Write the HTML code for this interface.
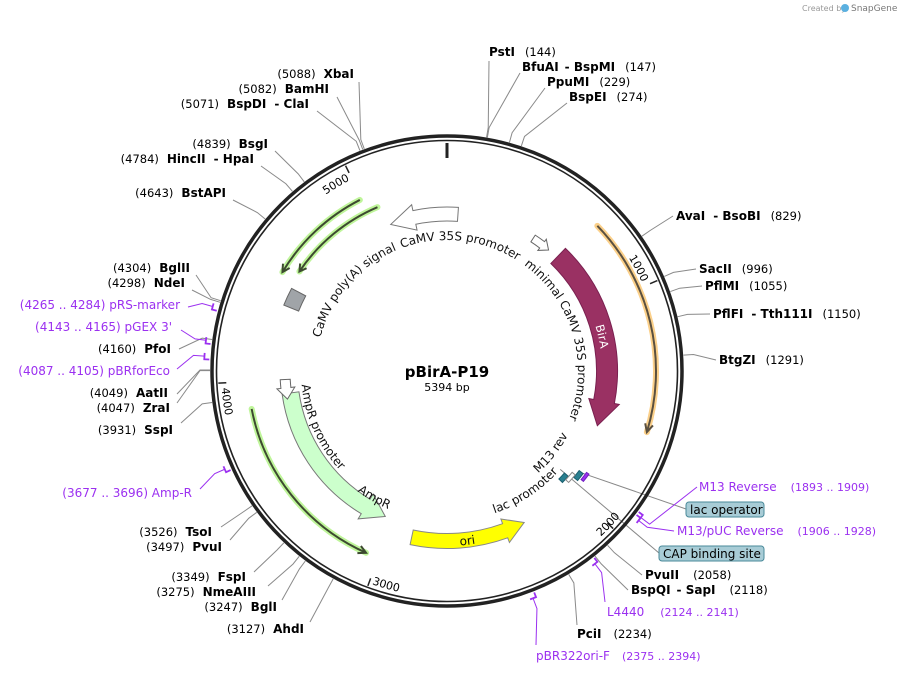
<!DOCTYPE html>
<html><head><meta charset="utf-8"><style>
html,body{margin:0;padding:0;background:#fff;}
svg{display:block;font-family:"DejaVu Sans","Liberation Sans",sans-serif;}
.b{font-weight:bold;fill:#000;font-size:12px;}
.n{fill:#000;font-size:11.5px;}
.p{fill:#9b30f0;font-size:12px;}
.f{font-size:12px;fill:#111;}
</style></head><body>
<svg id="s" width="898" height="674" viewBox="0 0 898 674" xmlns="http://www.w3.org/2000/svg">
<defs>
<path id="cw130" d="M447,502 A131,131 0 1 1 447,240 A131,131 0 1 1 447,502"/>
<path id="cw155" d="M447,526 A155,155 0 1 1 447,216 A155,155 0 1 1 447,526"/>
<path id="cw214" d="M447,585 A214,214 0 1 1 447,157 A214,214 0 1 1 447,585"/>
<path id="ccw146" d="M447,225 A146,146 0 1 0 447,517 A146,146 0 1 0 447,225"/>
<path id="ccw150" d="M447,221 A150,150 0 1 0 447,521 A150,150 0 1 0 447,221"/>
<path id="ccw137" d="M447,234 A137,137 0 1 0 447,508 A137,137 0 1 0 447,234"/>
<path id="ccw175" d="M447,196 A175,175 0 1 0 447,546 A175,175 0 1 0 447,196"/>
<path id="ccw226" d="M447,145 A226,226 0 1 0 447,597 A226,226 0 1 0 447,145"/>
</defs>
<text x="802" y="11" font-size="8" fill="#999">Created by</text>
<circle cx="845" cy="8" r="4" fill="#5ab0e0"/>
<text x="851" y="11" font-size="9" fill="#777">SnapGene</text>

<g id="leaders" stroke="#8a8a8a" stroke-width="1" fill="none"></g>
<g id="marks"></g>

<circle cx="447" cy="371" r="235" fill="none" stroke="#222" stroke-width="3.5"/>
<circle cx="447" cy="371" r="230.5" fill="none" stroke="#222" stroke-width="1.6"/>
<g id="ticks" stroke="#222" stroke-width="1.5"></g>
<line x1="447" y1="143" x2="447" y2="158" stroke="#222" stroke-width="3"/>

<g id="feat"></g>

<text font-size="11"><textPath href="#cw214" startOffset="42.5%" text-anchor="end">5000</textPath></text>
<text font-size="11"><textPath href="#cw214" startOffset="68.2%" text-anchor="end">1000</textPath></text>
<text font-size="11"><textPath href="#ccw226" startOffset="62.9%" text-anchor="middle">2000</textPath></text>
<text font-size="11"><textPath href="#ccw226" startOffset="44.6%" text-anchor="start">3000</textPath></text>
<text font-size="11"><textPath href="#ccw226" startOffset="26.2%" text-anchor="start">4000</textPath></text>

<text class="f"><textPath href="#cw130" startOffset="51.7%" text-anchor="middle">CaMV 35S promoter</textPath></text>
<text class="f"><textPath href="#cw130" startOffset="36.4%" text-anchor="middle">CaMV poly(A) signal</textPath></text>
<text class="f"><textPath href="#cw130" startOffset="70.5%" text-anchor="middle">minimal CaMV 35S promoter</textPath></text>
<text font-size="11.5" fill="#fff"><textPath href="#cw155" startOffset="71.5%" text-anchor="middle">BirA</textPath></text>
<text class="f"><textPath href="#ccw146" startOffset="31.7%" text-anchor="middle">AmpR promoter</textPath></text>
<text class="f"><textPath href="#ccw150" startOffset="41.7%" text-anchor="middle">AmpR</textPath></text>
<text class="f"><textPath href="#ccw150" startOffset="59.2%" text-anchor="middle">lac promoter</textPath></text>
<text class="f"><textPath href="#ccw137" startOffset="64.4%" text-anchor="middle">M13 rev</textPath></text>
<text class="f" font-size="12.5"><textPath href="#ccw175" startOffset="51.9%" text-anchor="middle">ori</textPath></text>

<text x="447" y="377" text-anchor="middle" font-weight="bold" font-size="15">pBirA-P19</text>
<text x="447" y="391" text-anchor="middle" font-size="11">5394 bp</text>

<text x="489" y="56"><tspan class="b">PstI</tspan><tspan class="n" dx="10">(144)</tspan></text>
<text x="522" y="71"><tspan class="b">BfuAI</tspan><tspan class="b" dx="6">- BspMI</tspan><tspan class="n" dx="10">(147)</tspan></text>
<text x="547" y="86"><tspan class="b">PpuMI</tspan><tspan class="n" dx="10">(229)</tspan></text>
<text x="569" y="101"><tspan class="b">BspEI</tspan><tspan class="n" dx="10">(274)</tspan></text>
<text x="676" y="220"><tspan class="b">AvaI</tspan><tspan class="b" dx="8">- BsoBI</tspan><tspan class="n" dx="10">(829)</tspan></text>
<text x="699" y="273"><tspan class="b">SacII</tspan><tspan class="n" dx="10">(996)</tspan></text>
<text x="705" y="290"><tspan class="b">PflMI</tspan><tspan class="n" dx="10">(1055)</tspan></text>
<text x="713" y="318"><tspan class="b">PflFI</tspan><tspan class="b" dx="8">- Tth111I</tspan><tspan class="n" dx="10">(1150)</tspan></text>
<text x="719" y="364"><tspan class="b">BtgZI</tspan><tspan class="n" dx="10">(1291)</tspan></text>
<text x="354" y="78" text-anchor="end"><tspan class="n">(5088)</tspan><tspan class="b" dx="8">XbaI</tspan></text>
<text x="329" y="93" text-anchor="end"><tspan class="n">(5082)</tspan><tspan class="b" dx="8">BamHI</tspan></text>
<text x="309" y="108" text-anchor="end"><tspan class="n">(5071)</tspan><tspan class="b" dx="8">BspDI</tspan><tspan class="b" dx="8">- ClaI</tspan></text>
<text x="268" y="148" text-anchor="end"><tspan class="n">(4839)</tspan><tspan class="b" dx="8">BsgI</tspan></text>
<text x="254" y="163" text-anchor="end"><tspan class="n">(4784)</tspan><tspan class="b" dx="8">HincII</tspan><tspan class="b" dx="8">- HpaI</tspan></text>
<text x="226" y="197" text-anchor="end"><tspan class="n">(4643)</tspan><tspan class="b" dx="8">BstAPI</tspan></text>
<text x="190" y="272" text-anchor="end"><tspan class="n">(4304)</tspan><tspan class="b" dx="8">BglII</tspan></text>
<text x="185" y="287" text-anchor="end"><tspan class="n">(4298)</tspan><tspan class="b" dx="8">NdeI</tspan></text>
<text x="180" y="309" text-anchor="end" class="p">(4265 .. 4284)  pRS-marker</text>
<text x="172" y="331" text-anchor="end" class="p">(4143 .. 4165)  pGEX 3'</text>
<text x="171" y="353" text-anchor="end"><tspan class="n">(4160)</tspan><tspan class="b" dx="8">PfoI</tspan></text>
<text x="170" y="375" text-anchor="end" class="p">(4087 .. 4105)  pBRforEco</text>
<text x="168" y="397" text-anchor="end"><tspan class="n">(4049)</tspan><tspan class="b" dx="8">AatII</tspan></text>
<text x="170" y="412" text-anchor="end"><tspan class="n">(4047)</tspan><tspan class="b" dx="8">ZraI</tspan></text>
<text x="173" y="434" text-anchor="end"><tspan class="n">(3931)</tspan><tspan class="b" dx="8">SspI</tspan></text>
<text x="192" y="497" text-anchor="end" class="p">(3677 .. 3696)  Amp-R</text>
<text x="212" y="536" text-anchor="end"><tspan class="n">(3526)</tspan><tspan class="b" dx="8">TsoI</tspan></text>
<text x="222" y="551" text-anchor="end"><tspan class="n">(3497)</tspan><tspan class="b" dx="8">PvuI</tspan></text>
<text x="246" y="581" text-anchor="end"><tspan class="n">(3349)</tspan><tspan class="b" dx="8">FspI</tspan></text>
<text x="256" y="596" text-anchor="end"><tspan class="n">(3275)</tspan><tspan class="b" dx="8">NmeAIII</tspan></text>
<text x="277" y="611" text-anchor="end"><tspan class="n">(3247)</tspan><tspan class="b" dx="8">BglI</tspan></text>
<text x="304" y="633" text-anchor="end"><tspan class="n">(3127)</tspan><tspan class="b" dx="8">AhdI</tspan></text>
<text x="699" y="491" class="p">M13 Reverse<tspan dx="14" font-size="11">(1893 .. 1909)</tspan></text>
<rect x="686" y="502" width="78" height="15" rx="3" fill="#a8ccd6" stroke="#4a8a9a"/>
<text x="690" y="514" font-size="12">lac operator</text>
<text x="677" y="535" class="p">M13/pUC Reverse<tspan dx="14" font-size="11">(1906 .. 1928)</tspan></text>
<rect x="659" y="546" width="105" height="15" rx="3" fill="#a8ccd6" stroke="#4a8a9a"/>
<text x="663" y="558" font-size="12">CAP binding site</text>
<text x="645" y="579"><tspan class="b">PvuII</tspan><tspan class="n" dx="14">(2058)</tspan></text>
<text x="631" y="594"><tspan class="b">BspQI</tspan><tspan class="b" dx="6">- SapI</tspan><tspan class="n" dx="14">(2118)</tspan></text>
<text x="607" y="616" class="p">L4440<tspan dx="16" font-size="11">(2124 .. 2141)</tspan></text>
<text x="577" y="638"><tspan class="b">PciI</tspan><tspan class="n" dx="12">(2234)</tspan></text>
<text x="536" y="660" class="p">pBR322ori-F<tspan dx="12" font-size="11">(2375 .. 2394)</tspan></text>
</svg>
<script>
(function(){
var NS="http://www.w3.org/2000/svg",cx=447,cy=371,L=5394;
function P(r,a){a=a*Math.PI/180;return [cx+r*Math.sin(a),cy-r*Math.cos(a)];}
function el(t,at,par){var e=document.createElementNS(NS,t);for(var k in at)e.setAttribute(k,at[k]);document.getElementById(par).appendChild(e);return e;}
function deg(bp){return bp/L*360;}
var S=[[144,489,61],[147,520,73],[229,545,88],[274,567,103],[5088,359,82],[5082,337,97],[5071,317,111],[4839,275,151],[4784,261,166],[4643,233,200],
[829,673,216],[996,696,269],[1055,702,286],[1150,710,314],[1291,716,360],[4304,196,275],[4298,192,290],[4160,179,349],[4049,177,394],[4047,177,403],[3931,181,423],
[3526,221,527],[3497,230,540],[3349,254,572],[3275,268,586],[3247,282,600],[3127,310,622],[2058,642,575],[2118,628,590],[2234,577,625]];
S.forEach(function(s){var a=deg(s[0]),p1=P(237,a),p2=P(247,a);
el("polyline",{points:p1.join(",")+" "+p2.join(",")+" "+s[1]+","+s[2]},"leaders");});
var PF=[[4265,4284,188,307],[4143,4165,181,330],[4087,4105,177,369],[3677,3696,200,489],[1893,1909,697,487],[1906,1928,674,531],[2124,2141,605,602],[2375,2394,536,645]];
PF.forEach(function(f){var a0=deg(f[0]),a1=deg(f[1]);var r=243;if(a1-a0<1.5)a1=a0+1.5;
var p0=P(r,a0),p1=P(r,a1),q0=P(238,a0),am=(a0+a1)/2,pm=P(r,am),po=P(254,am);
el("path",{d:"M"+q0+" L"+p0+" A"+r+","+r+" 0 0 1 "+p1,fill:"none",stroke:"#9b30f0","stroke-width":1.8},"marks");
el("polyline",{points:pm.join(",")+" "+po.join(",")+" "+f[2]+","+f[3],fill:"none",stroke:"#9b30f0","stroke-width":1},"marks");});
[1000,2000,3000,4000,5000].forEach(function(b){var a=deg(b),p=P(229,a),q=P(221,a);el("line",{x1:p[0],y1:p[1],x2:q[0],y2:q[1]},"ticks");});
function arcD(r,a0,a1){var p0=P(r,a0),p1=P(r,a1);var big=Math.abs(a1-a0)>180?1:0;var sw=a1>a0?1:0;return "M"+p0+" A"+r+","+r+" 0 "+big+" "+sw+" "+p1;}
function thin(r,a0,a1,glow,dark){
el("path",{d:arcD(r,a0,a1),fill:"none",stroke:glow,"stroke-width":6,"stroke-linecap":"round"},"feat");
el("path",{d:arcD(r,a0,a1),fill:"none",stroke:dark,"stroke-width":2},"feat");
var dir=a1>a0?1:-1,t=P(r,a1),b1=P(r+4,a1-dir*2.2),b2=P(r-4,a1-dir*2.2);
el("polyline",{points:b1+" "+t+" "+b2,fill:"none",stroke:dark,"stroke-width":2},"feat");}
thin(209,46,107,"#fbd08a","#5a5040");
thin(192,333,301,"#bff59a","#3d4a30");
thin(178,337,304,"#bff59a","#3d4a30");
thin(199,259,204,"#bff59a","#3d4a30");
function band(r,w,a0,a1,h,hw,fill,stroke){
var dir=a1>a0?1:-1,ab=a1-dir*h,ri=r-w/2,ro=r+w/2;
var sw=dir>0?1:0,sw2=dir>0?0:1;
var p=[P(ro,a0),P(ro,ab),P(ro+hw,ab),P(r,a1),P(ri-hw,ab),P(ri,ab),P(ri,a0)];
var d="M"+p[0]+" A"+ro+","+ro+" 0 0 "+sw+" "+p[1]+" L"+p[2]+" L"+p[3]+" L"+p[4]+" L"+p[5]+" A"+ri+","+ri+" 0 0 "+sw2+" "+p[6]+" Z";
if(h===0){d="M"+P(ro,a0)+" A"+ro+","+ro+" 0 0 "+sw+" "+P(ro,a1)+" L"+P(ri,a1)+" A"+ri+","+ri+" 0 0 "+sw2+" "+P(ri,a0)+" Z";}
el("path",{d:d,fill:fill,stroke:stroke,"stroke-width":1},"feat");}
band(160,21,44,110,9,5,"#9a3163","#7a2050");
band(158,17,262,203,8,6,"#ccffcc","#777");
band(170,15,192,153,7,5,"#ffff00","#888");
band(157,14,4,-21,9,6,"#ffffff","#777");
band(168,16,292,298,0,0,"#a0a4a8","#666");
band(158,8,33,40,3,3,"#ffffff","#666");
band(162,10,267,260,4,4,"#ffffff","#666");
band(158,5,131,134,0,0,"#2a7f8f","#1a5f6f");
band(168,5,127,130,0,0,"#2a7f8f","#1a5f6f");
band(174,3,126,129,0,0,"#9b30f0","#7020c0");
band(163,4,129,132.5,0,0,"#ffffff","#888");
function gl(r,a,x,y){var p=P(r,a);el("polyline",{points:p.join(",")+" "+x+","+y,fill:"none",stroke:"#888","stroke-width":1},"leaders");}
gl(170,127,686,509);gl(150,131,659,553);
})();
</script>
</body></html>
